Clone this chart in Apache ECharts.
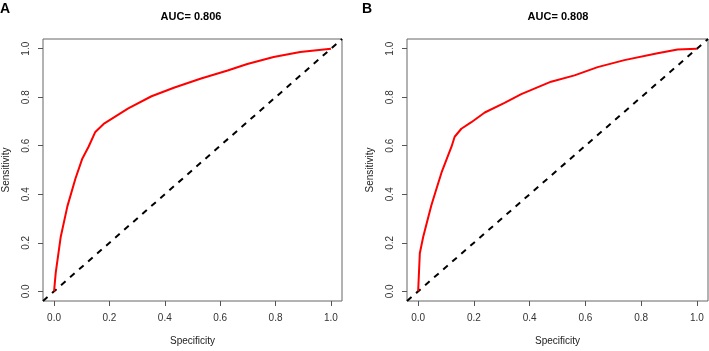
<!DOCTYPE html>
<html>
<head>
<meta charset="utf-8">
<script src="https://cdn.jsdelivr.net/npm/echarts@6/dist/echarts.min.js"></script>
<style>
  html, body { margin: 0; padding: 0; background: #fff; }
  #chart { width: 709px; height: 351px; }
</style>
</head>
<body>
<div id="chart"></div>
<script>
// ROC curve A (x as plotted on the R axis, y = sensitivity)
var rocAx = [0, 0.006, 0.024, 0.048, 0.077, 0.101, 0.125, 0.149, 0.179, 0.268, 0.352, 0.435, 0.531, 0.627, 0.698, 0.793, 0.889, 1.0];
var rocAy = [0, 0.077, 0.224, 0.35, 0.464, 0.544, 0.597, 0.657, 0.69, 0.754, 0.804, 0.84, 0.877, 0.91, 0.937, 0.966, 0.986, 1.0];

// ROC curve B
var rocBx = [0, 0.006, 0.018, 0.036, 0.048, 0.066, 0.084, 0.102, 0.12, 0.131, 0.155, 0.191, 0.239, 0.31, 0.37, 0.477, 0.561, 0.644, 0.74, 0.859, 0.931, 1.0];
var rocBy = [0, 0.157, 0.224, 0.304, 0.357, 0.424, 0.49, 0.544, 0.597, 0.637, 0.67, 0.697, 0.737, 0.777, 0.813, 0.864, 0.89, 0.924, 0.953, 0.981, 0.997, 1.0];

// reference diagonal, corner to corner of the plot region
var diagX = [-0.04, 1.04];
var diagY = [-0.04, 1.04];

var tickValues = [0, 0.2, 0.4, 0.6, 0.8, 1.0];
var aucLabels = ['AUC= 0.806', 'AUC= 0.808'];
var panelLabels = ['A', 'B'];

function pairs(xs, ys) {
    return xs.map(function (x, i) { return [x, ys[i]]; });
}

var font = '"Liberation Sans", Arial, sans-serif';

function makeAxis(idx, isX) {
    return {
        type: 'value',
        gridIndex: idx,
        min: -0.04,
        max: 1.04,
        name: isX ? 'Specificity' : 'Sensitivity',
        nameLocation: 'middle',
        nameGap: isX ? 35 : 32,
        nameTextStyle: { fontFamily: font, fontSize: 10, color: '#222' },
        axisLine: { show: false, onZero: false },
        splitLine: { show: false },
        axisTick: {
            show: true,
            length: 5,
            customValues: tickValues,
            lineStyle: { color: '#555', width: 1 }
        },
        axisLabel: {
            show: true,
            customValues: tickValues,
            rotate: isX ? 0 : 90,
            margin: isX ? 12 : 12,
            fontFamily: font,
            fontSize: 10,
            color: '#333',
            formatter: function (v) { return v.toFixed(1); }
        }
    };
}

var chart = echarts.init(document.getElementById('chart'));

var panelStyle = { fontFamily: font, fontSize: 14, fontWeight: 'bold', color: '#000' };
var aucStyle = { fontFamily: font, fontSize: 11, fontWeight: 'bold', color: '#000' };

var option = {
    animation: false,
    backgroundColor: '#fff',
    title: [
        { text: panelLabels[0], left: 0, top: 2, padding: 0, textStyle: panelStyle },
        { text: panelLabels[1], left: 362, top: 2, padding: 0, textStyle: panelStyle },
        { text: aucLabels[0], left: 191, top: 11, padding: 0, textAlign: 'center', textStyle: aucStyle },
        { text: aucLabels[1], left: 558, top: 11, padding: 0, textAlign: 'center', textStyle: aucStyle }
    ],
    grid: [
        { left: 40, top: 39, width: 302, height: 270, show: true, borderColor: '#666', borderWidth: 1 },
        { left: 407, top: 39, width: 301, height: 270, show: true, borderColor: '#666', borderWidth: 1 }
    ],
    xAxis: [makeAxis(0, true), makeAxis(1, true)],
    yAxis: [makeAxis(0, false), makeAxis(1, false)],
    series: [
        {
            type: 'line', xAxisIndex: 0, yAxisIndex: 0,
            data: pairs(diagX, diagY), showSymbol: false, clip: true,
            lineStyle: { color: '#000', width: 2, type: [6, 6] }
        },
        {
            type: 'line', xAxisIndex: 0, yAxisIndex: 0,
            data: pairs(rocAx, rocAy), showSymbol: false,
            lineStyle: { color: '#ff0000', width: 2 }
        },
        {
            type: 'line', xAxisIndex: 1, yAxisIndex: 1,
            data: pairs(diagX, diagY), showSymbol: false, clip: true,
            lineStyle: { color: '#000', width: 2, type: [6, 6] }
        },
        {
            type: 'line', xAxisIndex: 1, yAxisIndex: 1,
            data: pairs(rocBx, rocBy), showSymbol: false,
            lineStyle: { color: '#ff0000', width: 2 }
        }
    ]
};

chart.setOption(option);
</script>
</body>
</html>
